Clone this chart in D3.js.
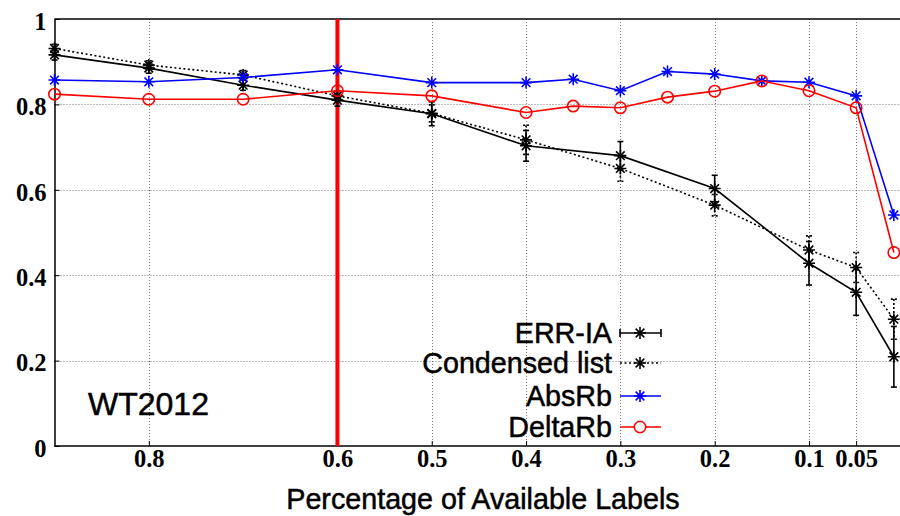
<!DOCTYPE html>
<html><head><meta charset="utf-8">
<script src="https://cdn.jsdelivr.net/npm/d3@7"></script>
<style>body{margin:0;background:#fff}svg{display:block}</style>
</head><body>
<svg id="c" width="900" height="516"></svg>
<script>
// ---- data ----
const xAll = [0.9,0.8,0.7,0.6,0.5,0.4,0.35,0.3,0.25,0.2,0.15,0.1,0.05,0.01];
const absRb = [0.857,0.853,0.863,0.881,0.851,0.851,0.859,0.832,0.877,0.871,0.855,0.852,0.820,0.541];
const deltaRb = [0.824,0.812,0.812,0.832,0.820,0.781,0.796,0.792,0.817,0.831,0.855,0.832,0.792,0.453];
const xErr = [0.9,0.8,0.7,0.6,0.5,0.4,0.3,0.2,0.1,0.05,0.01];
const errIA = [0.916,0.885,0.845,0.810,0.778,0.703,0.680,0.603,0.428,0.360,0.209];
const errIAErr = [0.012,0.012,0.012,0.014,0.028,0.036,0.033,0.031,0.051,0.054,0.071];
const condensed = [0.931,0.892,0.869,0.820,0.779,0.717,0.650,0.564,0.459,0.418,0.297];
const condensedErr = [0.010,0.010,0.010,0.012,0.020,0.034,0.030,0.025,0.033,0.035,0.047];
const xTicks = [0.8,0.6,0.5,0.4,0.3,0.2,0.1,0.05];
const xTickLabels = ["0.8","0.6","0.5","0.4","0.3","0.2","0.1","0.05"];
const yTicks = [0,0.2,0.4,0.6,0.8,1];
const yTickLabels = ["0","0.2","0.4","0.6","0.8","1"];
const legendNames = ["ERR-IA","Condensed list","AbsRb","DeltaRb"];
const markedX = 0.6;
const datasetLabel = "WT2012";
const xTitle = "Percentage of Available Labels";

// ---- layout ----
const svg = d3.select("#c");
const L = 54.5, T = 19, B = 446;
const x = d3.scaleLinear().domain([0.9, 0]).range([L, 903.3]);
const y = d3.scaleLinear().domain([0, 1]).range([B, T]);
const serif = "'Liberation Serif','Times New Roman',serif";
const sans = "'Liberation Sans',Arial,Helvetica,sans-serif";
const MS = 6;

// grid
const grid = svg.append("g").attr("stroke", "#777").attr("stroke-width", 1).attr("stroke-dasharray", "1,2");
xTicks.forEach(v => grid.append("line").attr("x1", Math.round(x(v))+0.5).attr("x2", Math.round(x(v))+0.5).attr("y1", T).attr("y2", B));
yTicks.filter(v => v > 0 && v < 1).forEach(v => grid.append("line").attr("x1", L).attr("x2", 900).attr("y1", Math.round(y(v))+0.5).attr("y2", Math.round(y(v))+0.5));

// axes
const xAxis = d3.axisBottom(x).tickValues(xTicks).tickFormat((d,i) => xTickLabels[i]).tickSizeInner(-5).tickSizeOuter(0).tickPadding(4);
const gx = svg.append("g").attr("transform", `translate(0,${B})`).call(xAxis);
gx.select(".domain").attr("stroke", "#000").attr("stroke-width", 1.5).attr("d", `M${L},0H900`);
gx.selectAll("text").attr("font-family", serif).attr("font-weight", "bold").attr("font-size", 24.5).attr("fill", "#000");
const yAxis = d3.axisLeft(y).tickValues(yTicks).tickFormat((d,i) => yTickLabels[i]).tickSizeInner(-5).tickSizeOuter(0).tickPadding(8);
const gy = svg.append("g").attr("transform", `translate(${L},0)`).call(yAxis);
gy.select(".domain").attr("stroke", "#000").attr("stroke-width", 1.5);
gy.selectAll("text").attr("font-family", serif).attr("font-weight", "bold").attr("font-size", 24.5).attr("fill", "#000").attr("dy", "0.42em");
svg.append("line").attr("x1", L).attr("x2", 900).attr("y1", T).attr("y2", T).attr("stroke", "#000").attr("stroke-width", 1.5);

// red vertical marker
svg.append("line").attr("x1", x(markedX)).attr("x2", x(markedX)).attr("y1", T).attr("y2", B).attr("stroke", "#ff0000").attr("stroke-width", 4);

// helpers
const star = s => { const d = s*0.72; return `M0,${-s}V${s}M${-s},0H${s}M${-d},${-d}L${d},${d}M${-d},${d}L${d},${-d}`; };
function drawSeries(xs, ys, color, dash, marker) {
  const line = d3.line().x((d,i) => x(xs[i])).y(d => y(d));
  svg.append("path").datum(ys).attr("d", line).attr("fill", "none").attr("stroke", color).attr("stroke-width", 1.6).attr("stroke-dasharray", dash);
  const g = svg.append("g");
  ys.forEach((v,i) => {
    if (marker === "star") g.append("path").attr("d", star(MS)).attr("transform", `translate(${x(xs[i])},${y(v)})`).attr("stroke", color).attr("stroke-width", 1.6).attr("fill", "none");
    else g.append("circle").attr("cx", x(xs[i])).attr("cy", y(v)).attr("r", 5.7).attr("stroke", color).attr("stroke-width", 1.6).attr("fill", "none");
  });
}
function drawErr(xs, ys, es, dash) {
  const g = svg.append("g").attr("stroke", "#000").attr("stroke-width", 1.6).attr("stroke-dasharray", dash);
  ys.forEach((v,i) => {
    const cx = x(xs[i]);
    g.append("line").attr("x1", cx).attr("x2", cx).attr("y1", y(v+es[i])).attr("y2", y(v-es[i]));
    g.append("line").attr("x1", cx-3).attr("x2", cx+3).attr("y1", y(v+es[i])).attr("y2", y(v+es[i]));
    g.append("line").attr("x1", cx-3).attr("x2", cx+3).attr("y1", y(v-es[i])).attr("y2", y(v-es[i]));
  });
}

drawErr(xErr, condensed, condensedErr, "2,2");
drawSeries(xErr, condensed, "#000", "2,2.5", "star");
drawErr(xErr, errIA, errIAErr, null);
drawSeries(xErr, errIA, "#000", null, "star");
drawSeries(xAll, absRb, "#0000ff", null, "star");
drawSeries(xAll, deltaRb, "#ff0000", null, "circle");

// legend
const legY = [333, 363, 396, 427];
const legColors = ["#000","#000","#0000ff","#ff0000"];
const legDash = [null, "2,2.5", null, null];
const legMarker = ["star","star","star","circle"];
legendNames.forEach((n,i) => {
  svg.append("text").attr("x", 612).attr("y", legY[i]).attr("dy", "0.36em").attr("text-anchor", "end")
    .attr("font-family", sans).attr("font-size", 28.7).attr("fill", "#000").attr("stroke", "#000").attr("stroke-width", 0.5).text(n);
  svg.append("line").attr("x1", 620).attr("x2", 661).attr("y1", legY[i]).attr("y2", legY[i]).attr("stroke", legColors[i]).attr("stroke-width", 1.6).attr("stroke-dasharray", legDash[i]);
  if (i === 0) {
    [620, 661].forEach(cx => svg.append("line").attr("x1", cx).attr("x2", cx).attr("y1", legY[i]-4).attr("y2", legY[i]+4).attr("stroke", "#000").attr("stroke-width", 1.6));
  }
  if (legMarker[i] === "star") svg.append("path").attr("d", star(MS)).attr("transform", `translate(640,${legY[i]})`).attr("stroke", legColors[i]).attr("stroke-width", 1.6).attr("fill", "none");
  else svg.append("circle").attr("cx", 640).attr("cy", legY[i]).attr("r", 5.7).attr("stroke", legColors[i]).attr("stroke-width", 1.6).attr("fill", "#fff");
});

// annotations
svg.append("text").attr("x", 88).attr("y", 415).attr("font-family", sans).attr("font-size", 32).attr("fill", "#000").attr("stroke", "#000").attr("stroke-width", 0.5).text(datasetLabel);
svg.append("text").attr("x", 483).attr("y", 509).attr("text-anchor", "middle").attr("font-family", sans).attr("font-size", 28.7).attr("fill", "#000").attr("stroke", "#000").attr("stroke-width", 0.5).text(xTitle);
</script>
</body></html>
